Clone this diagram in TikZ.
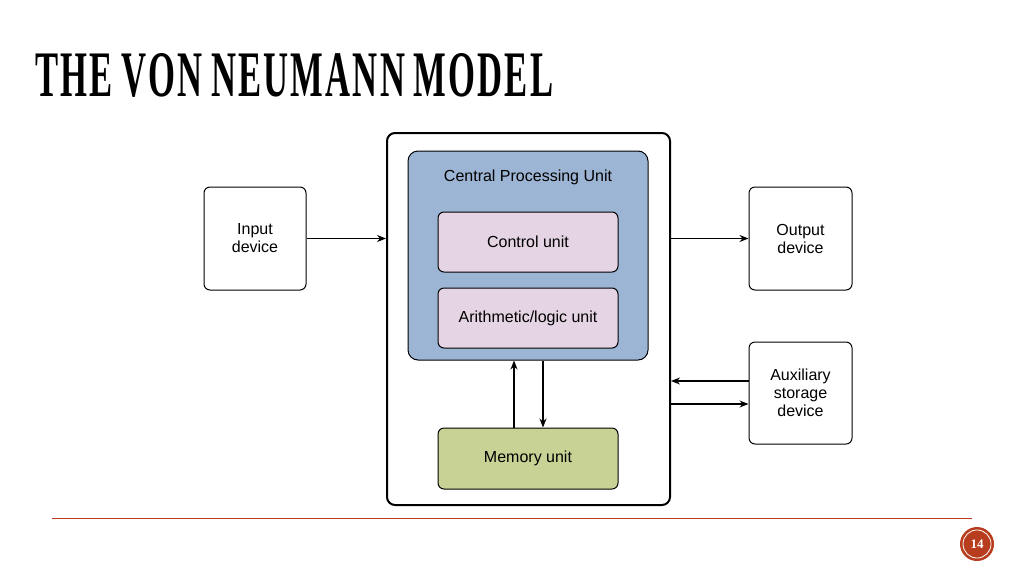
\documentclass[tikz,border=0pt]{standalone}
\usepackage{fontspec}
\setmainfont{Liberation Sans}
\newfontfamily\titlefont{Liberation Serif}
\usetikzlibrary{positioning, arrows.meta}
\definecolor{cpublue}{HTML}{9DB5D4}
\definecolor{unitpink}{HTML}{E4D4E4}
\definecolor{memgreen}{HTML}{C8D294}
\definecolor{rust}{HTML}{B83C1E}
\begin{document}
\begin{tikzpicture}[x=1pt, y=-1pt, font=\fontsize{16}{18}\selectfont,
  box/.style={draw, rounded corners=6pt, line width=1pt, inner sep=0pt, align=center},
  link/.style={-{Stealth[length=9pt, width=7pt]}, line width=1.2pt}]
  \useasboundingbox (0,0) rectangle (1024,576);
  \node[anchor=south west, inner sep=0pt] (title) at (35,98)
    {\resizebox{518pt}{43pt}{\titlefont\bfseries T\kern1pt H\kern1pt E V\kern1pt O\kern1pt N N\kern1pt E\kern1pt U\kern1pt M\kern1pt A\kern1pt N\kern1pt N M\kern1pt O\kern1pt D\kern1pt E\kern1pt L}};
  \node[box, minimum width=283pt, minimum height=372pt, rounded corners=8pt, line width=2pt] (outer) at (528.5,319) {};
  \node[box, fill=cpublue, minimum width=240pt, minimum height=209pt, rounded corners=10pt] (cpu) at (528,255.5) {};
  \node[below=27pt of cpu.north, anchor=center] (cputext) {Central Processing Unit};
  \node[box, fill=unitpink, minimum width=180pt, minimum height=60pt] (ctrl) at (528,242) {Control unit};
  \node[box, fill=unitpink, below=15pt of ctrl, minimum width=180pt, minimum height=60pt] (alu) {Arithmetic/logic unit};
  \node[box, fill=memgreen, minimum width=180pt, minimum height=61pt] (mem) at (528,458.5) {Memory unit};
  \node[box, minimum width=102pt, minimum height=103pt] (input) at (255,238.5) {Input\\device};
  \node[box, minimum width=103pt, minimum height=103pt] (output) at (800.5,238.5) {Output\\device};
  \node[box, minimum width=103pt, minimum height=102pt] (aux) at (800.5,393) {Auxiliary\\storage\\device};

  \draw[link] (input.east) -- (input.east -| outer.west);
  \draw[link] (output.west -| outer.east) -- (output.west);
  \draw[link] ([yshift=12pt]aux.west) -- ([yshift=12pt]aux.west -| outer.east);
  \draw[link] ([yshift=-11pt]aux.west -| outer.east) -- ([yshift=-11pt]aux.west);
  \draw[link] ([xshift=-14pt]mem.north) -- ([xshift=-14pt]mem.north |- cpu.south);
  \draw[link] ([xshift=15pt]mem.north |- cpu.south) -- ([xshift=15pt]mem.north);

  % footer
  \coordinate (lineL) at (52,518);
  \coordinate (lineR) at (972,518);
  \draw[rust, line width=0.8pt] (lineL) -- (lineR);
  \node[circle, fill=rust, minimum size=34pt, inner sep=0pt] (page) at (977,544) {};
  \node[circle, draw=white, line width=0.8pt, minimum size=28pt, inner sep=0pt, text=white, font=\titlefont\bfseries\fontsize{13}{13}\selectfont] at (page) {14};
\end{tikzpicture}
\end{document}
